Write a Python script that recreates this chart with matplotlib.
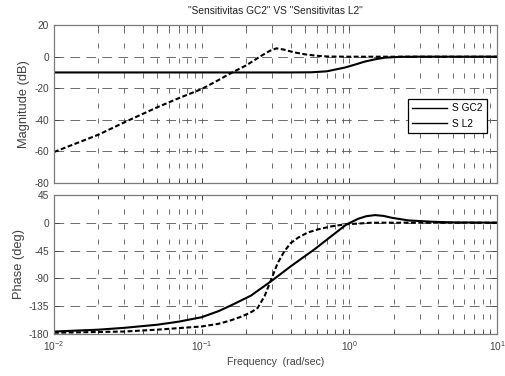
import matplotlib
matplotlib.use("Agg")
import matplotlib.pyplot as plt
from matplotlib.lines import Line2D
from matplotlib.ticker import LogLocator, NullFormatter, FixedLocator

plt.rcParams['font.family'] = ['Liberation Sans', 'DejaVu Sans']
plt.rcParams['axes.unicode_minus'] = False
plt.rcParams['lines.scale_dashes'] = False

# magnitude, S GC2 (dashed)
w_mag_gc2 = [0.01, 0.02, 0.03, 0.05, 0.07, 0.1, 0.13, 0.157, 0.2, 0.25, 0.29,
             0.32, 0.36, 0.42, 0.5, 0.6, 0.72, 1.0, 2.0, 10]
mag_gc2 = [-60.5, -49.5, -41.6, -32.1, -26.3, -20.5, -14.8, -10.5, -5.5, 0.3, 3.8,
           5.3, 4.5, 2.8, 1.5, 0.6, 0.1, 0, 0, 0]

# magnitude, S L2 (solid)
w_mag_l2 = [0.01, 0.1, 0.4, 0.55, 0.7, 0.93, 1.1, 1.27, 1.5, 1.74, 2.2, 3, 10]
mag_l2 = [-10, -10, -10, -9.9, -9.3, -6.9, -4.9, -3.1, -1.6, -0.6, -0.1, 0, 0]

# phase, S GC2 (dashed)
w_ph_gc2 = [0.01, 0.03, 0.05, 0.1, 0.13, 0.157, 0.18, 0.2, 0.22, 0.239, 0.266, 0.295,
            0.327, 0.363, 0.4, 0.448, 0.52, 0.612, 0.75, 0.93, 1.42, 3, 10]
ph_gc2 = [-178, -176, -173, -167.8, -163.5, -158, -153, -148.5, -143.5, -137.8, -119, -92,
          -65, -46, -33, -24.3, -16, -10.8, -6, -2.7, 0, 0, 0]

# phase, S L2 (solid)
w_ph_l2 = [0.01, 0.02, 0.03, 0.05, 0.07, 0.1, 0.13, 0.157, 0.215, 0.295, 0.403, 0.58,
           0.755, 0.955, 1.15, 1.3, 1.49, 1.7, 1.93, 2.5, 3.6, 5, 10]
ph_l2 = [-176, -173, -170, -165, -160, -152.8, -143, -134, -118, -94.6, -70, -43,
         -21.6, -2.7, 6.5, 10.5, 12.3, 11, 8, 3.7, 1.6, 0.5, 0]

mag_ticks = [20, 0, -20, -40, -60, -80]
ph_ticks = [45, 0, -45, -90, -135, -180]
legend_labels = ['S GC2', 'S L2']

fig = plt.figure(figsize=(5.06, 3.76), dpi=100)
ax1 = fig.add_axes([0.1067, 0.514, 0.876, 0.419])
ax2 = fig.add_axes([0.1067, 0.1117, 0.876, 0.370])

frame = '#7a7a7a'
txt = '#404040'
for ax in (ax1, ax2):
    ax.set_xscale('log')
    ax.set_xlim(0.01, 10)
    ax.xaxis.set_major_locator(LogLocator(base=10, numticks=10))
    ax.xaxis.set_minor_locator(LogLocator(base=10, subs=range(2, 10), numticks=10))
    ax.xaxis.set_minor_formatter(NullFormatter())
    ax.tick_params(which='both', direction='in', top=True, right=True,
                   labelsize=7.3, colors=txt, width=0.6)
    ax.tick_params(which='major', length=3.5)
    ax.tick_params(which='minor', length=2)
    for s in ax.spines.values():
        s.set_color(frame)
        s.set_linewidth(0.9)
    ax.set_axisbelow(True)
    ax.xaxis.grid(True, which='both', color='#555555', lw=0.6, dashes=(3.6, 7.2))
    ax.yaxis.grid(True, which='major', color='#555555', lw=0.6, dashes=(7, 4.5))

ax1.plot(w_mag_gc2, mag_gc2, color='black', lw=1.5, dashes=(3.5, 1.8))
ax1.plot(w_mag_l2, mag_l2, color='black', lw=1.5)
ax1.set_ylim(-80, 20)
ax1.yaxis.set_major_locator(FixedLocator(mag_ticks))
ax1.set_xticklabels([])
ax1.set_ylabel('Magnitude (dB)', fontsize=9.3, color=txt, labelpad=3)
ax1.set_title('"Sensitivitas GC2" VS "Sensitivitas L2"', fontsize=7.3, color='#202020', pad=8)

handles = [Line2D([], [], color='black', lw=1.0) for _ in legend_labels]
leg = ax1.legend(handles, legend_labels, loc='upper right', bbox_to_anchor=(0.988, 0.565),
                 fontsize=7.3, fancybox=False, framealpha=1, edgecolor='black',
                 handlelength=3.4, borderpad=0.45, labelspacing=0.55, handletextpad=0.5)
leg.get_frame().set_linewidth(0.9)

ax2.plot(w_ph_gc2, ph_gc2, color='black', lw=1.5, dashes=(3.5, 1.8))
ax2.plot(w_ph_l2, ph_l2, color='black', lw=1.5)
ax2.set_ylim(-180, 45)
ax2.yaxis.set_major_locator(FixedLocator(ph_ticks))
ax2.set_ylabel('Phase (deg)', fontsize=9.3, color=txt, labelpad=3)
ax2.set_xlabel('Frequency  (rad/sec)', fontsize=7.6, color=txt, labelpad=3)

fig.savefig('out.png', dpi=100)
